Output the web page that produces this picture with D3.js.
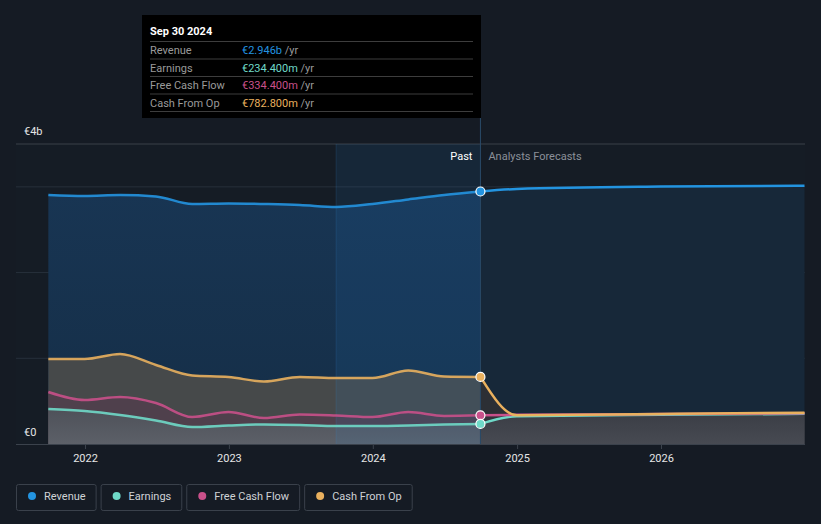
<!DOCTYPE html>
<html><head><meta charset="utf-8">
<script src="https://cdn.jsdelivr.net/npm/d3@7"></script>
<style>
html,body{margin:0;padding:0;background:#151b24;}
svg{display:block;font-family:Roboto,"Open Sans",sans-serif;}
</style></head>
<body><svg id="c" width="821" height="524"></svg>
<script>
// ---- data (values in € billions) ----
const pastDates = ["2021-09-30","2021-12-31","2022-03-31","2022-06-30","2022-09-30","2022-12-31","2023-03-31","2023-06-30","2023-09-30","2023-12-31","2024-03-31","2024-06-30","2024-09-30"];
const revenuePast  = [2.905,2.894,2.905,2.888,2.800,2.806,2.800,2.789,2.765,2.800,2.853,2.905,2.946];
const earningsPast = [0.408,0.385,0.338,0.274,0.198,0.216,0.228,0.222,0.210,0.210,0.216,0.228,0.2344];
const fcfPast      = [0.607,0.513,0.548,0.478,0.315,0.373,0.303,0.344,0.333,0.315,0.373,0.327,0.3344];
const cfoPast      = [0.992,0.992,1.050,0.922,0.799,0.782,0.729,0.782,0.770,0.770,0.858,0.788,0.7828];

const fcDates = ["2024-09-30","2024-12-31","2025-12-31","2026-12-31"];
const revenueFc  = [2.946,2.975,3.003,3.012];
const earningsFc = [0.2344,0.325,0.340,0.352];
const fcfFc      = [0.3344,0.340,0.350,0.360];
const cfoFc      = [0.7828,0.335,0.350,0.365];

const xTicks = ["2022","2023","2024","2025","2026"];
const yLabels = [{v:0,t:"€0"},{v:3.5,t:"€4b"}];
const gridVals = [1,2,3,3.5];
const bandStart = "2023-09-30", pastEnd = "2024-09-30";

const seriesNames = ["Revenue","Earnings","Free Cash Flow","Cash From Op"];
const seriesColors = ["#2394e0","#6fd9c8","#c9508a","#e9b05e"];
const tipTitle = "Sep 30 2024";
const tipValues = ["€2.946b","€234.400m","€334.400m","€782.800m"];

// ---- setup ----
const parse = d3.timeParse("%Y-%m-%d");
const svg = d3.select("#c");
const x = d3.scaleTime().domain([new Date(2022,0,1), new Date(2026,0,1)]).range([85, 661]);
const y = d3.scaleLinear().domain([0, 3.5]).range([444, 144]);
const L = 16, R = 805;
const pd = pastDates.map(parse), fd = fcDates.map(parse);
const mk = (ds, vs) => ds.map((d,i)=>({d, v:vs[i]}));

const defs = svg.append("defs");
const g1 = defs.append("linearGradient").attr("id","revPast").attr("x1",0).attr("y1",0).attr("x2",0).attr("y2",1);
g1.append("stop").attr("offset","0%").attr("stop-color","#183553");
g1.append("stop").attr("offset","100%").attr("stop-color","#152e47");
const g2 = defs.append("linearGradient").attr("id","earnPast").attr("x1",0).attr("y1",0).attr("x2",0).attr("y2",1);
g2.append("stop").attr("offset","0%").attr("stop-color","#4e5159");
g2.append("stop").attr("offset","100%").attr("stop-color","#5c6068");
const g3 = defs.append("linearGradient").attr("id","fcBase").attr("x1",0).attr("y1",0).attr("x2",0).attr("y2",1);
g3.append("stop").attr("offset","0%").attr("stop-color","#3b3e46");
g3.append("stop").attr("offset","100%").attr("stop-color","#474a52");

// plot background
svg.append("rect").attr("x",L).attr("y",y(3.5)).attr("width",R-L).attr("height",y(0)-y(3.5)).attr("fill","#151c25");

const area = d3.area().x(d=>x(d.d)).y0(y(0)).y1(d=>y(d.v)).curve(d3.curveMonotoneX);
const line = d3.line().x(d=>x(d.d)).y(d=>y(d.v)).curve(d3.curveMonotoneX);

// grid
svg.selectAll(".grid").data(gridVals).enter().append("line")
  .attr("x1",L).attr("x2",R).attr("y1",d=>y(d)).attr("y2",d=>y(d))
  .attr("stroke",d=>d===3.5?"#3a4049":"#27303b").attr("stroke-width",1);

// past areas
svg.append("path").datum(mk(pd,revenuePast)).attr("d",area).attr("fill","url(#revPast)");
svg.append("path").datum(mk(pd,cfoPast)).attr("d",area).attr("fill","#46494a");
svg.append("path").datum(mk(pd,fcfPast)).attr("d",area).attr("fill","#4f404c");
svg.append("path").datum(mk(pd,earningsPast)).attr("d",area).attr("fill","url(#earnPast)");

// forecast areas
svg.append("path").datum(mk(fd,revenueFc)).attr("d",area).attr("fill","#172839");
svg.append("path").datum(mk(fd,cfoFc)).attr("d",area).attr("fill","#2c2f35");
svg.append("path").datum(mk(fd,fcfFc)).attr("d",area).attr("fill","#33323a");
svg.append("path").datum(mk(fd,earningsFc)).attr("d",area).attr("fill","url(#fcBase)");

// highlight band (last year of past)
const bx0 = x(parse(bandStart)), bx1 = x(parse(pastEnd));
svg.append("rect").attr("x",bx0).attr("y",y(3.5)).attr("width",bx1-bx0).attr("height",y(0)-y(3.5))
  .attr("fill","rgba(40,140,230,0.10)");
svg.append("line").attr("x1",bx0).attr("x2",bx0).attr("y1",y(3.5)).attr("y2",y(0)).attr("stroke","rgba(60,140,210,0.18)");

// lines
const allSeries = [
  [revenuePast, revenueFc],[earningsPast, earningsFc],[fcfPast, fcfFc],[cfoPast, cfoFc]
];
[1,2,3,0].forEach(i=>{
  svg.append("path").datum(mk(fd,allSeries[i][1])).attr("d",line).attr("fill","none")
    .attr("stroke",seriesColors[i]).attr("stroke-width",2.5);
  svg.append("path").datum(mk(pd,allSeries[i][0])).attr("d",line).attr("fill","none")
    .attr("stroke",seriesColors[i]).attr("stroke-width",2.5).attr("stroke-opacity",0.9);
});

// baseline & ticks
svg.append("line").attr("x1",L).attr("x2",R).attr("y1",y(0)+0.5).attr("y2",y(0)+0.5).attr("stroke","#3b424c");
const xa = svg.append("g").attr("transform",`translate(0,${y(0)})`)
  .call(d3.axisBottom(x).tickValues(xTicks.map(t=>new Date(+t,0,1))).tickFormat(d3.timeFormat("%Y")).tickSizeOuter(0).tickSize(5));
xa.select(".domain").remove();
xa.selectAll(".tick line").attr("stroke","#3b424c");
xa.selectAll(".tick text").attr("fill","#e6e6e6").attr("font-size",11).attr("dy","0.9em")
  .attr("font-family","Roboto, sans-serif");

// y labels
svg.selectAll(".yl").data(yLabels).enter().append("text")
  .attr("x",24).attr("y",d=>d.v===0? y(0)-8 : y(d.v)-9)
  .attr("fill","#e6e6e6").attr("font-size",11).text(d=>d.t);

// past / forecast labels
svg.append("text").attr("x",bx1-8).attr("y",160).attr("text-anchor","end").attr("fill","#ffffff").attr("font-size",11).text("Past");
svg.append("text").attr("x",bx1+8).attr("y",160).attr("fill","#8b9099").attr("font-size",11).text("Analysts Forecasts");

// vertical marker line
svg.append("line").attr("x1",bx1).attr("x2",bx1).attr("y1",118).attr("y2",y(0)).attr("stroke","#2a4a68").attr("stroke-width",1);

// dots
const lastVals = allSeries.map(s=>s[0][s[0].length-1]);
[0,3,2,1].forEach(i=>{
  svg.append("circle").attr("cx",bx1).attr("cy",y(lastVals[i])).attr("r",4.5)
    .attr("fill",seriesColors[i]).attr("stroke","#ffffff").attr("stroke-width",1.2);
});

// tooltip
const tip = svg.append("g");
tip.append("rect").attr("x",142).attr("y",15).attr("width",339).attr("height",103).attr("fill","#000");
tip.append("text").attr("x",150).attr("y",35).attr("fill","#fff").attr("font-size",11).attr("font-weight","bold").text(tipTitle);
const rowY = [41,58.5,76,93.5,111];
rowY.forEach(yy=>tip.append("line").attr("x1",150).attr("x2",473).attr("y1",yy+0.5).attr("y2",yy+0.5).attr("stroke","#3d3d3d"));
seriesNames.forEach((n,i)=>{
  const ty = rowY[i]+13;
  tip.append("text").attr("x",150).attr("y",ty).attr("fill","#9a9a9a").attr("font-size",11).text(n);
  const t = tip.append("text").attr("x",242).attr("y",ty).attr("font-size",11);
  t.append("tspan").attr("fill",seriesColors[i]).text(tipValues[i]);
  t.append("tspan").attr("fill","#9a9a9a").text(" /yr");
});

// legend
const lg = svg.append("g");
let lx = 16;
seriesNames.forEach((n,i)=>{
  const g = lg.append("g");
  const tw = g.append("text").attr("x",lx+28).attr("y",500).attr("fill","#cfd2d6").attr("font-size",11).text(n);
  const w = tw.node().getComputedTextLength() + 28 + 10;
  g.insert("rect","text").attr("x",lx+0.5).attr("y",484.5).attr("width",w).attr("height",26).attr("rx",2)
    .attr("fill","none").attr("stroke","#3a414b");
  g.append("circle").attr("cx",lx+16).attr("cy",496).attr("r",4).attr("fill",seriesColors[i]);
  lx += w + 5;
});
</script></body></html>
